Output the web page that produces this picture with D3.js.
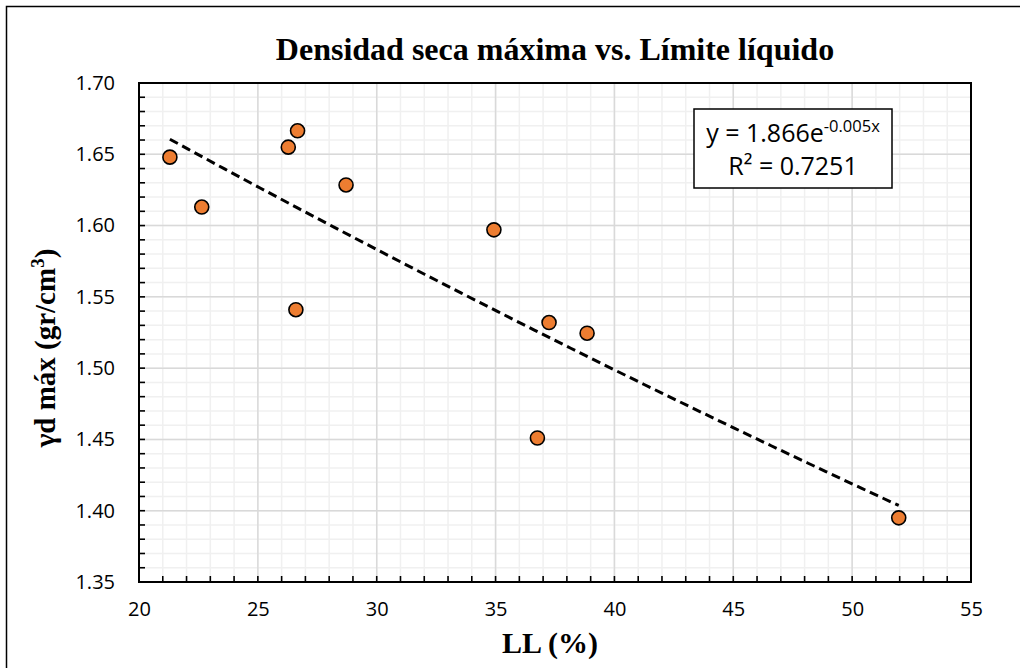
<!DOCTYPE html>
<html><head><meta charset="utf-8">
<script src="https://cdn.jsdelivr.net/npm/d3@7"></script>
<style>body{margin:0;background:#fff}svg{display:block}</style>
</head><body><div id="chart"></div>
<script>
// Data
const llValues = [21.3, 22.64, 26.28, 26.67, 26.6, 28.71, 34.93, 36.76, 37.25, 38.85, 51.96];
const densityValues = [1.648, 1.613, 1.655, 1.6665, 1.541, 1.6285, 1.597, 1.451, 1.532, 1.5245, 1.395];
const xTicks = [20, 25, 30, 35, 40, 45, 50, 55];
const yTicks = [1.35, 1.40, 1.45, 1.50, 1.55, 1.60, 1.65, 1.70];
const titleText = "Densidad seca máxima vs. Límite líquido";
const xTitle = "LL (%)";
const eqMain = "y = 1.866e";
const eqExp = "-0.005x";
const r2Text = "R² = 0.7251";

const W = 1020, H = 668;
const m = {left: 139, right: 971, top: 83, bottom: 582};
const svg = d3.select("#chart").append("svg").attr("width", W).attr("height", H);

svg.append("rect").attr("x", 6.5).attr("y", 6.5).attr("width", W + 10).attr("height", H + 10)
  .attr("fill", "#fff").attr("stroke", "#000").attr("stroke-width", 1.5);

const x = d3.scaleLinear().domain([20, 55]).range([m.left, m.right]);
const y = d3.scaleLinear().domain([1.35, 1.70]).range([m.bottom, m.top]);

const g = svg.append("g");
// minor grid
const xMinor = d3.range(20, 55.001, 1);
const yMinor = d3.range(0, 36).map(i => 1.35 + i * 0.01);
g.selectAll(".xm").data(xMinor).join("line")
  .attr("x1", d => x(d)).attr("x2", d => x(d)).attr("y1", m.top).attr("y2", m.bottom)
  .attr("stroke", "#f0f0f0").attr("stroke-width", 1.5);
g.selectAll(".ym").data(yMinor).join("line")
  .attr("y1", d => y(d)).attr("y2", d => y(d)).attr("x1", m.left).attr("x2", m.right)
  .attr("stroke", "#f0f0f0").attr("stroke-width", 1.5);
// major grid
g.selectAll(".xM").data(xTicks).join("line")
  .attr("x1", d => x(d)).attr("x2", d => x(d)).attr("y1", m.top).attr("y2", m.bottom)
  .attr("stroke", "#d9d9d9").attr("stroke-width", 1.5);
g.selectAll(".yM").data(yTicks).join("line")
  .attr("y1", d => y(d)).attr("y2", d => y(d)).attr("x1", m.left).attr("x2", m.right)
  .attr("stroke", "#d9d9d9").attr("stroke-width", 1.5);

// plot border
svg.append("rect").attr("x", m.left).attr("y", m.top).attr("width", m.right - m.left).attr("height", m.bottom - m.top)
  .attr("fill", "none").attr("stroke", "#000").attr("stroke-width", 2);

// inner ticks
svg.append("g").selectAll("line").data(xMinor).join("line")
  .attr("x1", d => x(d)).attr("x2", d => x(d)).attr("y1", m.bottom).attr("y2", m.bottom - 6)
  .attr("stroke", "#000").attr("stroke-width", 1.6);
svg.append("g").selectAll("line").data(yMinor).join("line")
  .attr("y1", d => y(d)).attr("y2", d => y(d)).attr("x1", m.left).attr("x2", m.left + 6)
  .attr("stroke", "#000").attr("stroke-width", 1.6);

// axes labels via d3 axes
const tickFont = "'Open Sans', sans-serif";
const xAxis = svg.append("g").attr("transform", `translate(0,${m.bottom})`)
  .call(d3.axisBottom(x).tickValues(xTicks).tickSize(0).tickPadding(20).tickFormat(d3.format("d")));
xAxis.select(".domain").remove();
xAxis.selectAll("text").attr("font-family", tickFont).attr("font-size", 20).attr("fill", "#000");
const yAxis = svg.append("g").attr("transform", `translate(${m.left},0)`)
  .call(d3.axisLeft(y).tickValues(yTicks).tickSize(0).tickPadding(24).tickFormat(d3.format(".2f")));
yAxis.select(".domain").remove();
yAxis.selectAll("text").attr("font-family", tickFont).attr("font-size", 20).attr("fill", "#000");

// trend line: exponential least-squares fit on ln(y)
const n = llValues.length;
const lnY = densityValues.map(Math.log);
const mx = d3.mean(llValues), my = d3.mean(lnY);
let sxy = 0, sxx = 0;
for (let i = 0; i < n; i++) { sxy += (llValues[i] - mx) * (lnY[i] - my); sxx += (llValues[i] - mx) ** 2; }
const b = sxy / sxx, a = Math.exp(my - b * mx);
const xmin = d3.min(llValues), xmax = d3.max(llValues);
const trend = d3.range(0, 41).map(i => { const xv = xmin + (xmax - xmin) * i / 40; return [xv, a * Math.exp(b * xv)]; });
svg.append("path").datum(trend)
  .attr("d", d3.line().x(d => x(d[0])).y(d => y(d[1])))
  .attr("fill", "none").attr("stroke", "#000").attr("stroke-width", 3).attr("stroke-dasharray", "9,5");

// points
svg.append("g").selectAll("circle").data(llValues.map((v, i) => [v, densityValues[i]])).join("circle")
  .attr("cx", d => x(d[0])).attr("cy", d => y(d[1])).attr("r", 7)
  .attr("fill", "#ED7D31").attr("stroke", "#000").attr("stroke-width", 1.6);

// equation box
svg.append("rect").attr("x", 694).attr("y", 109).attr("width", 198).attr("height", 79)
  .attr("fill", "#fff").attr("stroke", "#000").attr("stroke-width", 1.5);
const eq = svg.append("text").attr("x", 793).attr("y", 142).attr("text-anchor", "middle")
  .attr("font-family", tickFont).attr("font-size", 25).attr("fill", "#000");
eq.append("tspan").text(eqMain);
eq.append("tspan").attr("font-size", 16.5).attr("dy", -10).text(eqExp);
svg.append("text").attr("x", 793).attr("y", 175).attr("text-anchor", "middle")
  .attr("font-family", tickFont).attr("font-size", 25).attr("fill", "#000").text(r2Text);

// titles
const serif = "'Liberation Serif', 'Times New Roman', serif";
svg.append("text").attr("x", 555).attr("y", 60).attr("text-anchor", "middle")
  .attr("font-family", serif).attr("font-weight", "bold").attr("font-size", 32).attr("fill", "#000").text(titleText);
svg.append("text").attr("x", 550).attr("y", 653).attr("text-anchor", "middle")
  .attr("font-family", serif).attr("font-weight", "bold").attr("font-size", 30).attr("fill", "#000").text(xTitle);
const yt = svg.append("text").attr("transform", "translate(55,348) rotate(-90)").attr("text-anchor", "middle")
  .attr("font-family", serif).attr("font-weight", "bold").attr("font-size", 29).attr("fill", "#000");
yt.append("tspan").text("γd máx (gr/cm");
yt.append("tspan").attr("font-size", 19).attr("dy", -11).text("3");
yt.append("tspan").attr("dy", 11).text(")");
</script></body></html>
